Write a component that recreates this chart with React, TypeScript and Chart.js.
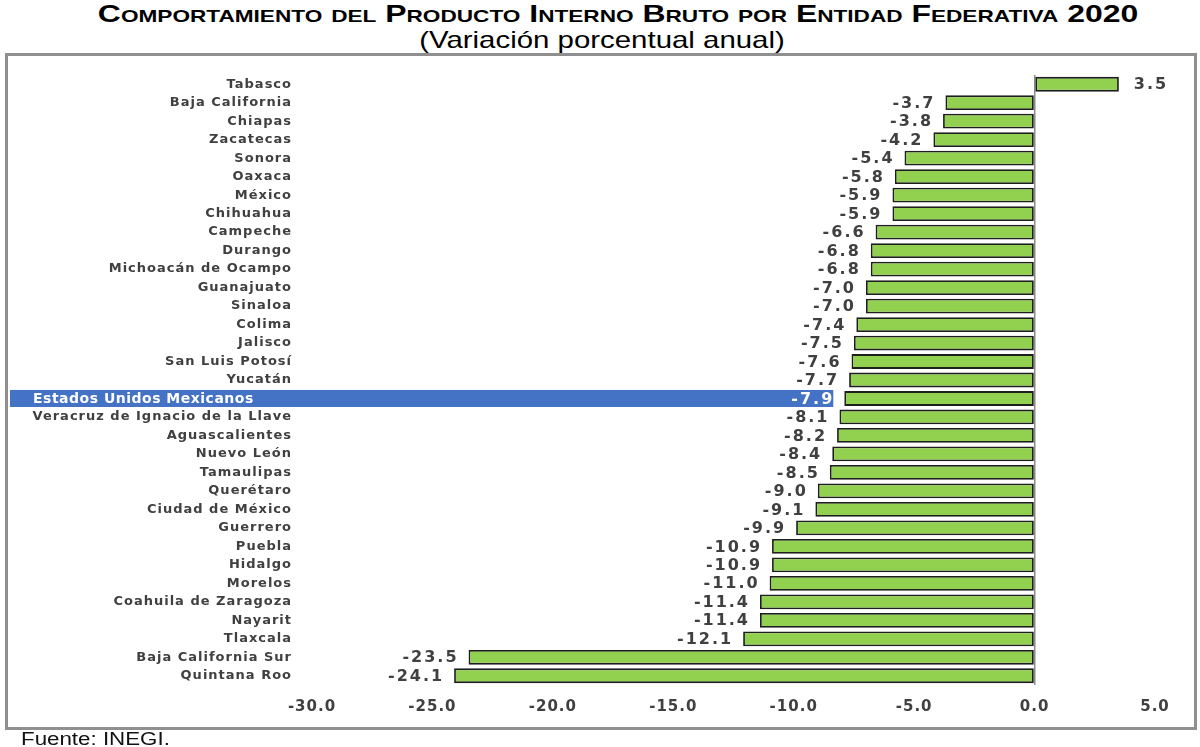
import React, { useEffect, useRef } from 'react';
import { Chart, registerables } from 'chart.js';

Chart.register(...registerables);

const categories: string[] = [
  'Tabasco',
  'Baja California',
  'Chiapas',
  'Zacatecas',
  'Sonora',
  'Oaxaca',
  'México',
  'Chihuahua',
  'Campeche',
  'Durango',
  'Michoacán de Ocampo',
  'Guanajuato',
  'Sinaloa',
  'Colima',
  'Jalisco',
  'San Luis Potosí',
  'Yucatán',
  'Estados Unidos Mexicanos',
  'Veracruz de Ignacio de la Llave',
  'Aguascalientes',
  'Nuevo León',
  'Tamaulipas',
  'Querétaro',
  'Ciudad de México',
  'Guerrero',
  'Puebla',
  'Hidalgo',
  'Morelos',
  'Coahuila de Zaragoza',
  'Nayarit',
  'Tlaxcala',
  'Baja California Sur',
  'Quintana Roo',
];

const values: number[] = [
  3.5, -3.7, -3.8, -4.2, -5.4, -5.8, -5.9, -5.9, -6.6, -6.8, -6.8, -7.0, -7.0,
  -7.4, -7.5, -7.6, -7.7, -7.9, -8.1, -8.2, -8.4, -8.5, -9.0, -9.1, -9.9,
  -10.9, -10.9, -11.0, -11.4, -11.4, -12.1, -23.5, -24.1,
];

const xTicks: number[] = [-30, -25, -20, -15, -10, -5, 0, 5];
const highlightIndex = 17;

const TITLE = 'Comportamiento del Producto Interno Bruto por Entidad Federativa 2020';
const SUBTITLE = '(Variación porcentual anual)';
const SOURCE = 'Fuente: INEGI.';

const decorPlugin = {
  id: 'decor',
  beforeDraw(chart: any) {
    const ctx = chart.ctx as CanvasRenderingContext2D;
    (ctx as any).letterSpacing = '1px';
    const meta = chart.getDatasetMeta(0);
    const bar = meta.data[highlightIndex];
    if (!bar) return;
    ctx.save();
    ctx.fillStyle = '#4472C4';
    const right = bar.x - 11;
    ctx.fillRect(10, bar.y - 8.5, right - 10, 17);
    ctx.restore();
  },
  afterDatasetsDraw(chart: any) {
    const ctx = chart.ctx as CanvasRenderingContext2D;
    const meta = chart.getDatasetMeta(0);
    ctx.save();
    (ctx as any).letterSpacing = '2px';
    ctx.font = 'bold 16px "DejaVu Sans"';
    ctx.textBaseline = 'middle';
    meta.data.forEach((el: any, i: number) => {
      const v = values[i];
      const txt = v.toFixed(1);
      ctx.fillStyle = i === highlightIndex ? '#ffffff' : '#404040';
      if (v >= 0) {
        ctx.textAlign = 'left';
        ctx.fillText(txt, el.x + 15, el.y + 1);
      } else {
        ctx.textAlign = 'right';
        ctx.fillText(txt, el.x - 10, el.y + 1);
      }
    });
    const hb = meta.data[highlightIndex];
    ctx.font = 'bold 14px "DejaVu Sans"';
    (ctx as any).letterSpacing = '0.5px';
    ctx.textAlign = 'left';
    ctx.fillStyle = '#ffffff';
    ctx.fillText(categories[highlightIndex], 33, hb.y + 1);
    ctx.restore();
  },
};

export default function App() {
  const ref = useRef<HTMLCanvasElement>(null);

  useEffect(() => {
    const canvas = ref.current;
    if (!canvas) return;
    const chart = new Chart(canvas, {
      type: 'bar',
      data: {
        labels: categories,
        datasets: [
          {
            data: values,
            backgroundColor: '#92D050',
            borderColor: '#1e1e1e',
            borderWidth: 1.8,
            borderSkipped: false,
            categoryPercentage: 1,
            barPercentage: 0.8,
          },
        ],
      },
      options: {
        indexAxis: 'y',
        responsive: false,
        animation: false,
        devicePixelRatio: 1,
        layout: { padding: { left: 10, right: 45, top: 75, bottom: 32 } },
        plugins: {
          legend: { display: false },
          tooltip: { enabled: false },
        },
        scales: {
          x: {
            type: 'linear',
            min: -30,
            max: 5,
            afterBuildTicks: (s: any) => {
              s.ticks = xTicks.map((v) => ({ value: v }));
            },
            afterFit: (s: any) => {
              s.height = 30;
            },
            grid: {
              drawTicks: false,
              lineWidth: 1.5,
              color: (c: any) =>
                c.tick && c.tick.value === 0 ? '#8a8a8a' : 'rgba(0,0,0,0)',
            },
            border: { display: false },
            ticks: {
              padding: 13,
              color: '#404040',
              autoSkip: false,
              maxRotation: 0,
              font: { family: '"DejaVu Sans"', weight: 'bold', size: 15 },
              callback: (v: any) => Number(v).toFixed(1),
            },
          },
          y: {
            afterFit: (s: any) => {
              s.width = 302;
            },
            grid: { display: false, drawTicks: false },
            border: { display: false },
            ticks: {
              padding: 20,
              autoSkip: false,
              color: (c: any) =>
                c.index === highlightIndex ? 'rgba(0,0,0,0)' : '#404040',
              font: { family: '"DejaVu Sans"', weight: 'bold', size: 13 },
            },
          },
        },
      },
      plugins: [decorPlugin],
    } as any);
    return () => chart.destroy();
  }, []);

  return (
    <div
      style={{
        position: 'fixed',
        left: 0,
        top: 0,
        width: 1200,
        height: 747,
        background: '#ffffff',
        overflow: 'hidden',
      }}
    >
      <div
        style={{
          position: 'absolute',
          left: 0,
          top: 1,
          width: 1236,
          textAlign: 'center',
          fontFamily: '"Liberation Sans", Arial, sans-serif',
          fontWeight: 'bold',
          fontSize: 24,
          fontVariant: 'small-caps',
          color: '#000',
          whiteSpace: 'nowrap',
          lineHeight: '26px',
          transform: 'scaleX(1.33)',
          transformOrigin: '618px 0',
        }}
      >
        {TITLE}
      </div>
      <div
        style={{
          position: 'absolute',
          left: 0,
          top: 27,
          width: 1204,
          textAlign: 'center',
          fontFamily: '"Liberation Sans", Arial, sans-serif',
          fontSize: 24,
          color: '#000',
          whiteSpace: 'nowrap',
          lineHeight: '26px',
          transform: 'scaleX(1.225)',
          transformOrigin: '602px 0',
        }}
      >
        {SUBTITLE}
      </div>
      <div
        style={{
          position: 'absolute',
          left: 5,
          top: 53,
          width: 1192,
          height: 677,
          boxSizing: 'border-box',
          border: '3px solid #8f8f8f',
          background: '#ffffff',
        }}
      />
      <canvas
        ref={ref}
        width={1200}
        height={747}
        style={{ position: 'absolute', left: 0, top: 0, width: 1200, height: 747 }}
      />
      <div
        style={{
          position: 'absolute',
          left: 21,
          top: 729,
          fontFamily: '"Liberation Sans", Arial, sans-serif',
          fontSize: 18,
          color: '#111',
          whiteSpace: 'nowrap',
          lineHeight: '20px',
          transform: 'scaleX(1.24)',
          transformOrigin: '0 0',
        }}
      >
        {SOURCE}
      </div>
    </div>
  );
}
